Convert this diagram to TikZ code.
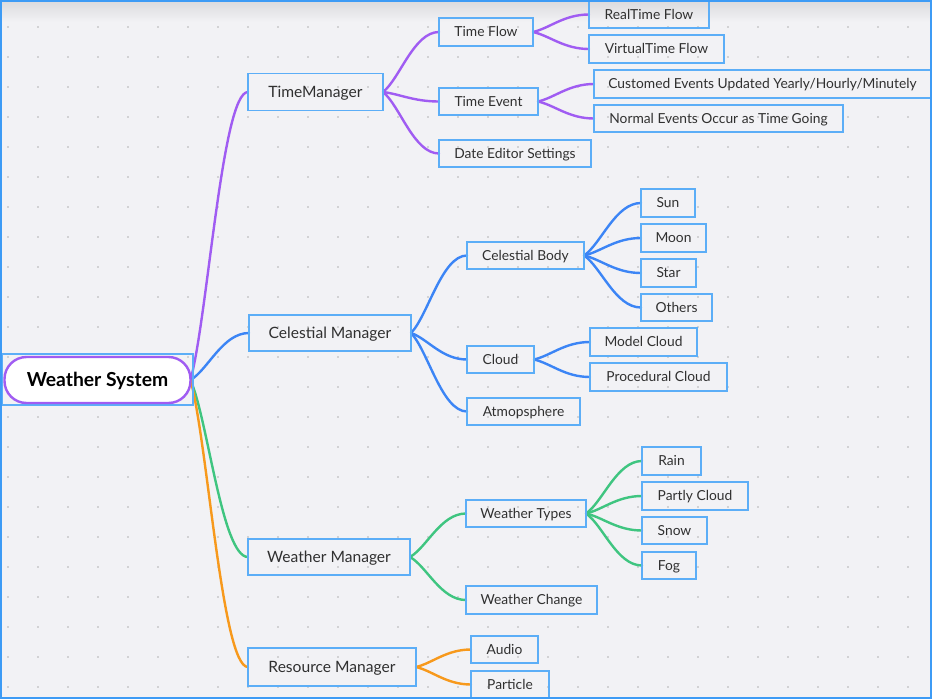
\documentclass[tikz,border=0pt]{standalone}
\usepackage{fontspec}
\setmainfont{Lato}
\usetikzlibrary{calc}
\definecolor{bgc}{HTML}{F2F2F5}
\definecolor{dotc}{HTML}{D2D2D4}
\definecolor{framec}{HTML}{3D9BF5}
\definecolor{boxc}{HTML}{5CAEF7}
\definecolor{txtc}{HTML}{303030}
\definecolor{purp}{HTML}{A05CF2}
\definecolor{blu}{HTML}{3C85F5}
\definecolor{grn}{HTML}{3FC580}
\definecolor{orng}{HTML}{F7991C}
\pgfdeclarelayer{bg}
\pgfsetlayers{bg,main}
\tikzset{
  box/.style={draw=boxc, line width=1.3pt, inner sep=0pt, outer sep=0pt, text=txtc, font=\fontsize{13.8}{16}\selectfont, text height=9.9pt, text depth=0pt},
  mgr/.style={box, font=\fontsize{15.6}{18}\selectfont, text height=11.2pt, text depth=0pt},
  link/.style={line width=2.4pt, line cap=round}
}
\newcommand\mmlink[3]{%
  \draw[link,#1] let \p1=(#2.east), \p2=(#3.west) in
    (\p1) .. controls ({\x1+0.3*(\x2-\x1)},{\y1+0.22*(\y2-\y1)}) and ({\x1+0.55*(\x2-\x1)},\y2) .. (\p2);}
\newcommand\bx[6]{\node[#1, minimum width=#4pt, minimum height=#5pt] (#2) at (#3) {#6};}
\begin{document}
\begin{tikzpicture}[x=1pt,y=-1pt]
\useasboundingbox (0,0) rectangle (932,699);
% nodes
\node[draw=boxc, line width=1.2pt, minimum width=191pt, minimum height=51pt, inner sep=0pt, outer sep=0pt] (rootframe) at (97.5,379.5) {};
\node[draw=purp, fill=white, line width=2.4pt, rounded corners=22pt, minimum width=186pt, minimum height=46pt, inner sep=0pt, outer sep=0pt, font=\fontsize{19.3}{22}\selectfont\bfseries, text=black, text height=13.9pt, text depth=0pt] (root) at (97.5,380) {Weather System};
\bx{mgr}{tm}{315.5,92}{135}{37}{TimeManager}
\bx{mgr}{cm}{330,333}{162}{36}{Celestial Manager}
\bx{mgr}{wm}{329,557}{162}{36}{Weather Manager}
\bx{mgr}{rm}{332,667}{168}{38}{Resource Manager}
\bx{box}{tf}{486,32}{94}{28}{Time Flow}
\bx{box}{te}{488.5,101.5}{99}{27}{Time Event}
\bx{box}{de}{515,153.5}{152}{27}{Date Editor Settings}
\bx{box}{rt}{649,14.5}{120}{27}{RealTime Flow}
\bx{box}{vt}{656.5,49}{135}{28}{VirtualTime Flow}
\bx{box}{ce}{762.5,84}{337}{28}{Customed Events Updated Yearly/Hourly/Minutely}
\bx{box}{ne}{718.5,118.5}{249}{27}{Normal Events Occur as Time Going}
\bx{box}{cb}{525.5,255.5}{117}{27}{Celestial Body}
\bx{box}{cl}{500.5,359.5}{67}{27}{Cloud}
\bx{box}{at}{523.5,411.5}{113}{27}{Atmopsphere}
\bx{box}{sun}{668,203}{54}{28}{Sun}
\bx{box}{moon}{673.5,238}{65}{28}{Moon}
\bx{box}{star}{668.5,273}{55}{28}{Star}
\bx{box}{oth}{676.5,307.5}{71}{27}{Others}
\bx{box}{mc}{643.5,342}{107}{28}{Model Cloud}
\bx{box}{pc}{658.5,377}{137}{28}{Procedural Cloud}
\bx{box}{wt}{526,513.5}{120}{27}{Weather Types}
\bx{box}{wc}{531.5,600}{131}{28}{Weather Change}
\bx{box}{rain}{671.5,461}{59}{28}{Rain}
\bx{box}{pcl}{695,496}{106}{28}{Partly Cloud}
\bx{box}{snow}{674.5,530.5}{65}{27}{Snow}
\bx{box}{fog}{669,565.5}{54}{27}{Fog}
\bx{box}{au}{504.5,649.5}{67}{27}{Audio}
\bx{box}{pa}{510,684.5}{78}{27}{Particle}
\begin{pgfonlayer}{bg}
\fill[bgc] (0,0) rectangle (932,699);
\shade[top color=black!10!bgc, bottom color=bgc, draw=none] (0,0) rectangle (932,22);
\foreach \i in {0,...,30} \foreach \j in {0,...,22}
  \fill[dotc] ({8+30*\i-1.3},{27+30*\j-1.3}) rectangle +(2.6,2.6);
\mmlink{purp}{root}{tm}
\mmlink{blu}{root}{cm}
\mmlink{grn}{root}{wm}
\mmlink{orng}{root}{rm}
\mmlink{purp}{tm}{tf}
\mmlink{purp}{tm}{te}
\mmlink{purp}{tm}{de}
\mmlink{purp}{tf}{rt}
\mmlink{purp}{tf}{vt}
\mmlink{purp}{te}{ce}
\mmlink{purp}{te}{ne}
\mmlink{blu}{cm}{cb}
\mmlink{blu}{cm}{cl}
\mmlink{blu}{cm}{at}
\mmlink{blu}{cb}{sun}
\mmlink{blu}{cb}{moon}
\mmlink{blu}{cb}{star}
\mmlink{blu}{cb}{oth}
\mmlink{blu}{cl}{mc}
\mmlink{blu}{cl}{pc}
\mmlink{grn}{wm}{wt}
\mmlink{grn}{wm}{wc}
\mmlink{grn}{wt}{rain}
\mmlink{grn}{wt}{pcl}
\mmlink{grn}{wt}{snow}
\mmlink{grn}{wt}{fog}
\mmlink{orng}{rm}{au}
\mmlink{orng}{rm}{pa}
\end{pgfonlayer}
\draw[framec, line width=1.6pt] (0.8,0.8) rectangle (931.2,698.2);
\end{tikzpicture}
\end{document}
